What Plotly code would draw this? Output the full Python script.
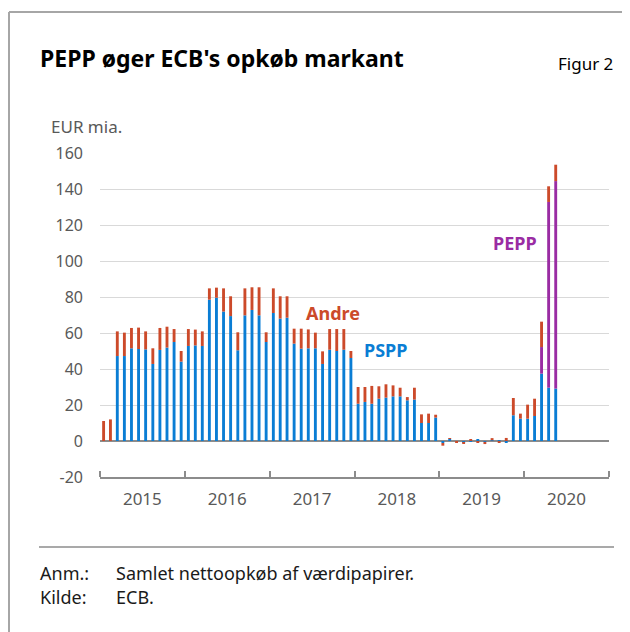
import plotly.graph_objects as go

months = [f"{2015 + i // 12}-{i % 12 + 1:02d}" for i in range(65)]

pspp = [0, 0, 47.2, 47.2, 51.5, 51.1, 50.9, 42.8, 50.6, 51.9, 55.0, 44.1,
        52.8, 53.1, 52.8, 78.5, 79.6, 71.9, 69.4, 50.4, 69.8, 72.8, 69.8, 55.0,
        71.1, 68.0, 68.5, 54.1, 51.3, 51.5, 51.5, 42.8, 50.7, 50.0, 50.7, 46.1,
        20.7, 21.7, 20.7, 23.5, 24.1, 24.8, 24.8, 22.6, 23.0, 10.0, 10.0, 13.0,
        -1.1, 1.3, 0.0, -1.0, -0.2, 0.9, -0.5, 0.4, 0.1, -0.9, 14.3, 12.4,
        12.4, 13.9, 37.4, 29.6, 29.1]

pepp = [0] * 62 + [14.8, 103.2, 115.3]

andre = [11.1, 12.0, 13.7, 13.0, 11.3, 11.9, 10.0, 8.7, 12.2, 11.6, 7.2, 5.9,
         9.4, 8.8, 8.1, 6.3, 5.6, 12.9, 11.0, 10.0, 15.0, 12.6, 15.6, 5.4,
         13.7, 12.4, 11.9, 8.3, 11.1, 10.5, 8.7, 7.0, 11.5, 12.2, 11.5, 3.9,
         9.3, 8.3, 9.9, 6.9, 7.4, 6.1, 4.8, 1.8, 6.6, 4.8, 5.2, 1.6,
         -1.5, 0.2, -0.8, -0.2, 0.9, -1.1, -1.2, 1.2, -0.6, 1.7, 9.6, 2.8,
         7.8, 9.6, 14.1, 8.7, 9.1]

y_ticks = [-20, 0, 20, 40, 60, 80, 100, 120, 140, 160]
y_tick_text = ["-20", "0", "20", "40", "60", "80", "100", "120", "140", "160"]

BLUE = "#0a7dd4"
PURPLE = "#9a2ca3"
RED = "#cc4a2a"
FONT = "Noto Sans"

# page offset (body margin) and plot area, in screen pixels
OFF = 8
W, H = 630, 632
SX0, SX1, SY0, SY1 = 100, 609, 153, 477
L, R = SX0 - OFF, W - (SX1 - OFF)
T, B = SY0 - OFF, H - (SY1 - OFF)
PW, PH = SX1 - SX0, SY1 - SY0


def px(x):
    return (x - SX0) / PW


def py(y):
    return (SY1 - y) / PH


fig = go.Figure()
common = dict(x=months, xperiod="M1", xperiodalignment="middle", hoverinfo="skip")
fig.add_trace(go.Bar(y=pspp, name="PSPP", marker=dict(color=BLUE, line=dict(width=0)), **common))
fig.add_trace(go.Bar(y=pepp, name="PEPP", marker=dict(color=PURPLE, line=dict(width=0)), **common))
fig.add_trace(go.Bar(y=andre, name="Andre", marker=dict(color=RED, line=dict(width=0)), **common))

fig.update_layout(
    width=W, height=H,
    margin=dict(l=L, r=R, t=T, b=B),
    paper_bgcolor="white", plot_bgcolor="white",
    barmode="relative", bargap=0.58,
    showlegend=False,
    font=dict(family=FONT, color="#595959", size=16),
    xaxis=dict(
        type="date",
        range=["2015-01-01", "2021-01-01"],
        dtick="M12", tick0="2015-01-01",
        tickformat="%Y", ticklabelmode="period",
        ticks="inside", ticklen=6, tickcolor="#8c8c8c", tickwidth=1.5,
        showline=True, linecolor="#8c8c8c", linewidth=1.5,
        showgrid=False, zeroline=False,
        tickfont=dict(size=17, color="#595959"),
        ticklabelstandoff=6,
    ),
    yaxis=dict(
        range=[-20, 160], tickvals=y_ticks, ticktext=y_tick_text,
        showgrid=True, gridcolor="#d9d9d9", gridwidth=1,
        zeroline=True, zerolinecolor="#8c8c8c", zerolinewidth=1.5,
        showline=False, ticks="", ticklabelstandoff=16,
        tickfont=dict(size=16, color="#595959"),
    ),
)

ann = [
    dict(text="<b>PEPP øger ECB's opkøb markant</b>", x=px(38), y=py(58), xanchor="left",
         yanchor="middle", font=dict(size=23, color="#000000")),
    dict(text="Figur 2", x=px(615), y=py(63), xanchor="right", yanchor="middle",
         font=dict(size=17, color="#000000")),
    dict(text="EUR mia.", x=px(49), y=py(126), xanchor="left", yanchor="middle",
         font=dict(size=17, color="#595959")),
    dict(text="<b>Andre</b>", x=px(333), y=py(313), xanchor="center", yanchor="middle",
         font=dict(size=18, color=RED)),
    dict(text="<b>PSPP</b>", x=px(385), y=py(350), xanchor="center", yanchor="middle",
         font=dict(size=18, color=BLUE)),
    dict(text="<b>PEPP</b>", x=px(515), y=py(243), xanchor="center", yanchor="middle",
         font=dict(size=18, color=PURPLE)),
    dict(text="Anm.:", x=px(38), y=py(573), xanchor="left", yanchor="middle",
         font=dict(size=18, color="#1a1a1a")),
    dict(text="Samlet nettoopkøb af værdipapirer.", x=px(114), y=py(573), xanchor="left",
         yanchor="middle", font=dict(size=18, color="#1a1a1a")),
    dict(text="Kilde:", x=px(38), y=py(597), xanchor="left", yanchor="middle",
         font=dict(size=18, color="#1a1a1a")),
    dict(text="ECB.", x=px(114), y=py(597), xanchor="left", yanchor="middle",
         font=dict(size=18, color="#1a1a1a")),
]
for a in ann:
    fig.add_annotation(xref="paper", yref="paper", showarrow=False, **a)

shapes = [
    dict(x0=px(9), x1=px(9), y0=py(12), y1=py(660), line=dict(color="#a6a6a6", width=2)),
    dict(x0=px(9), x1=px(660), y0=py(12), y1=py(12), line=dict(color="#a6a6a6", width=2)),
    dict(x0=px(39), x1=px(614), y0=py(547), y1=py(547), line=dict(color="#8c8c8c", width=1.5)),
]
for s in shapes:
    fig.add_shape(type="line", xref="paper", yref="paper", **s)

fig.write_html("out.html")
